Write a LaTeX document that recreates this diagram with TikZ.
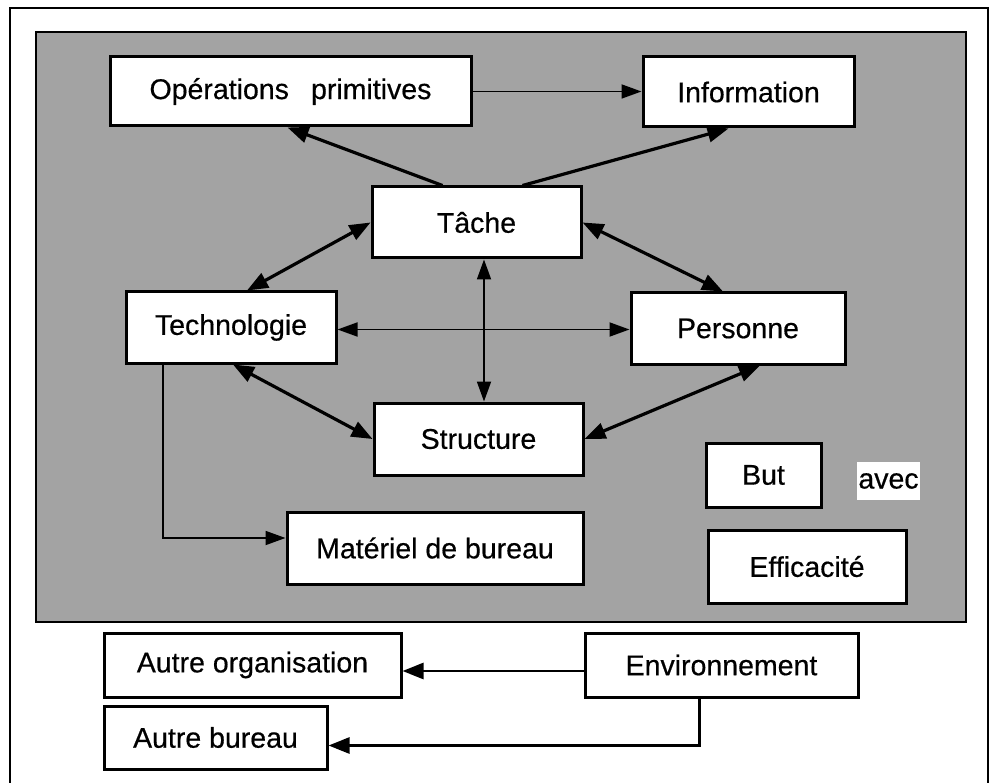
\documentclass[tikz,border=0pt]{standalone}
\usepackage{fontspec}
\setmainfont{Liberation Sans}
\newfontfamily\boxfont[FakeBold=0.5]{Liberation Sans}
\usetikzlibrary{arrows.meta}
\definecolor{panel}{gray}{0.64}
\begin{document}
\begin{tikzpicture}
				[x=1pt,y=-1pt,
				box/.style={rectangle, draw=black, line width=3pt, fill=white,
				inner sep=0pt, font=\boxfont\fontsize{28.5}{32}\selectfont},
				link/.style={line width=1.8pt, -{Triangle[length=20pt,width=14pt]}},
				thicklink/.style={line width=3.2pt, -{Triangle[length=21pt,width=16pt]}},
				biglink/.style={line width=3.2pt, {Triangle[length=21pt,width=16pt]}-{Triangle[length=21pt,width=16pt]}},
				duallink/.style={line width=1.8pt, {Triangle[length=20pt,width=14pt]}-{Triangle[length=20pt,width=14pt]}},
				outlink/.style={line width=2.6pt, -{Triangle[length=21pt,width=16pt]}}]
				\useasboundingbox (0,0) rectangle (990,783);
				\draw[line width=2.2pt] (10,783) -- (10,8) -- (988,8) -- (988,783);
				\draw[line width=2.4pt, fill=panel] (36,32) rectangle (966,622);

				\node[box, minimum width=361pt, minimum height=69pt] (ops) at (290.5,91.5) {Opérations\hspace{0.5em} primitives};
				\node[box, minimum width=211pt, minimum height=70pt] (info) at (748.5,92) {Information};
				\node[box, minimum width=209pt, minimum height=71pt] (tache) at (476.5,222.5) {Tâche};
				\node[box, minimum width=210pt, minimum height=71pt] (techno) at (231,327.5) {Technologie};
				\node[box, minimum width=214pt, minimum height=71pt] (pers) at (738,328.5) {Personne};
				\node[box, minimum width=209pt, minimum height=72pt] (struc) at (478.5,439) {Structure};
				\node[box, minimum width=296pt, minimum height=72pt] (mat) at (435,548) {Matériel de bureau};
				\node[box, minimum width=115pt, minimum height=64pt] (but) at (763.5,475) {But};
				\node[box, minimum width=198pt, minimum height=73pt] (eff) at (807,566.5) {Efficacité};
				\node[box, draw=none, minimum width=63pt, minimum height=38pt] (avec) at (888.5,481) {avec};

				\node[box, minimum width=297pt, minimum height=64pt] (autreorg) at (252.5,665) {Autre organisation};
				\node[box, minimum width=273pt, minimum height=64pt] (env) at (721.5,665) {Environnement};
				\node[box, minimum width=223pt, minimum height=63pt] (autrebur) at (215.5,737.5) {Autre bureau};

				% tache vers le haut
				\draw[link] (ops.east) -- (ops.east -| info.west);
				\draw[thicklink] ([xshift=-34pt]tache.north) -- ([xshift=-3pt]ops.south);
				\draw[thicklink] ([xshift=46pt]tache.north) -- ([xshift=-20pt]info.south);

				% les quatre liens doubles
				\foreach \from/\sfrom/\to/\sto in {tache.west/0/techno.north/16,
				tache.east/0/pers.north/-15, techno.south/2/struc.west/0,
				pers.south/22/struc.east/0}
				\draw[biglink] ([xshift=\sfrom pt]\from) -- ([xshift=\sto pt]\to);

				\draw[duallink] ([xshift=7.5pt]tache.south) -- ([xshift=5.5pt]struc.north);
				\draw[duallink] ([yshift=-2pt]techno.east) -- ([yshift=-2pt]techno.east -| pers.west);
				\draw[link] ([xshift=-68pt]techno.south) |- ([yshift=10pt]mat.west);

				% environnement
				\draw[outlink] ([yshift=-6pt]env.west) -- ([yshift=-6pt]autreorg.east);
				\draw[outlink] ([xshift=-22pt]env.south) |- ([yshift=-8pt]autrebur.east);
			\end{tikzpicture}
\end{document}
